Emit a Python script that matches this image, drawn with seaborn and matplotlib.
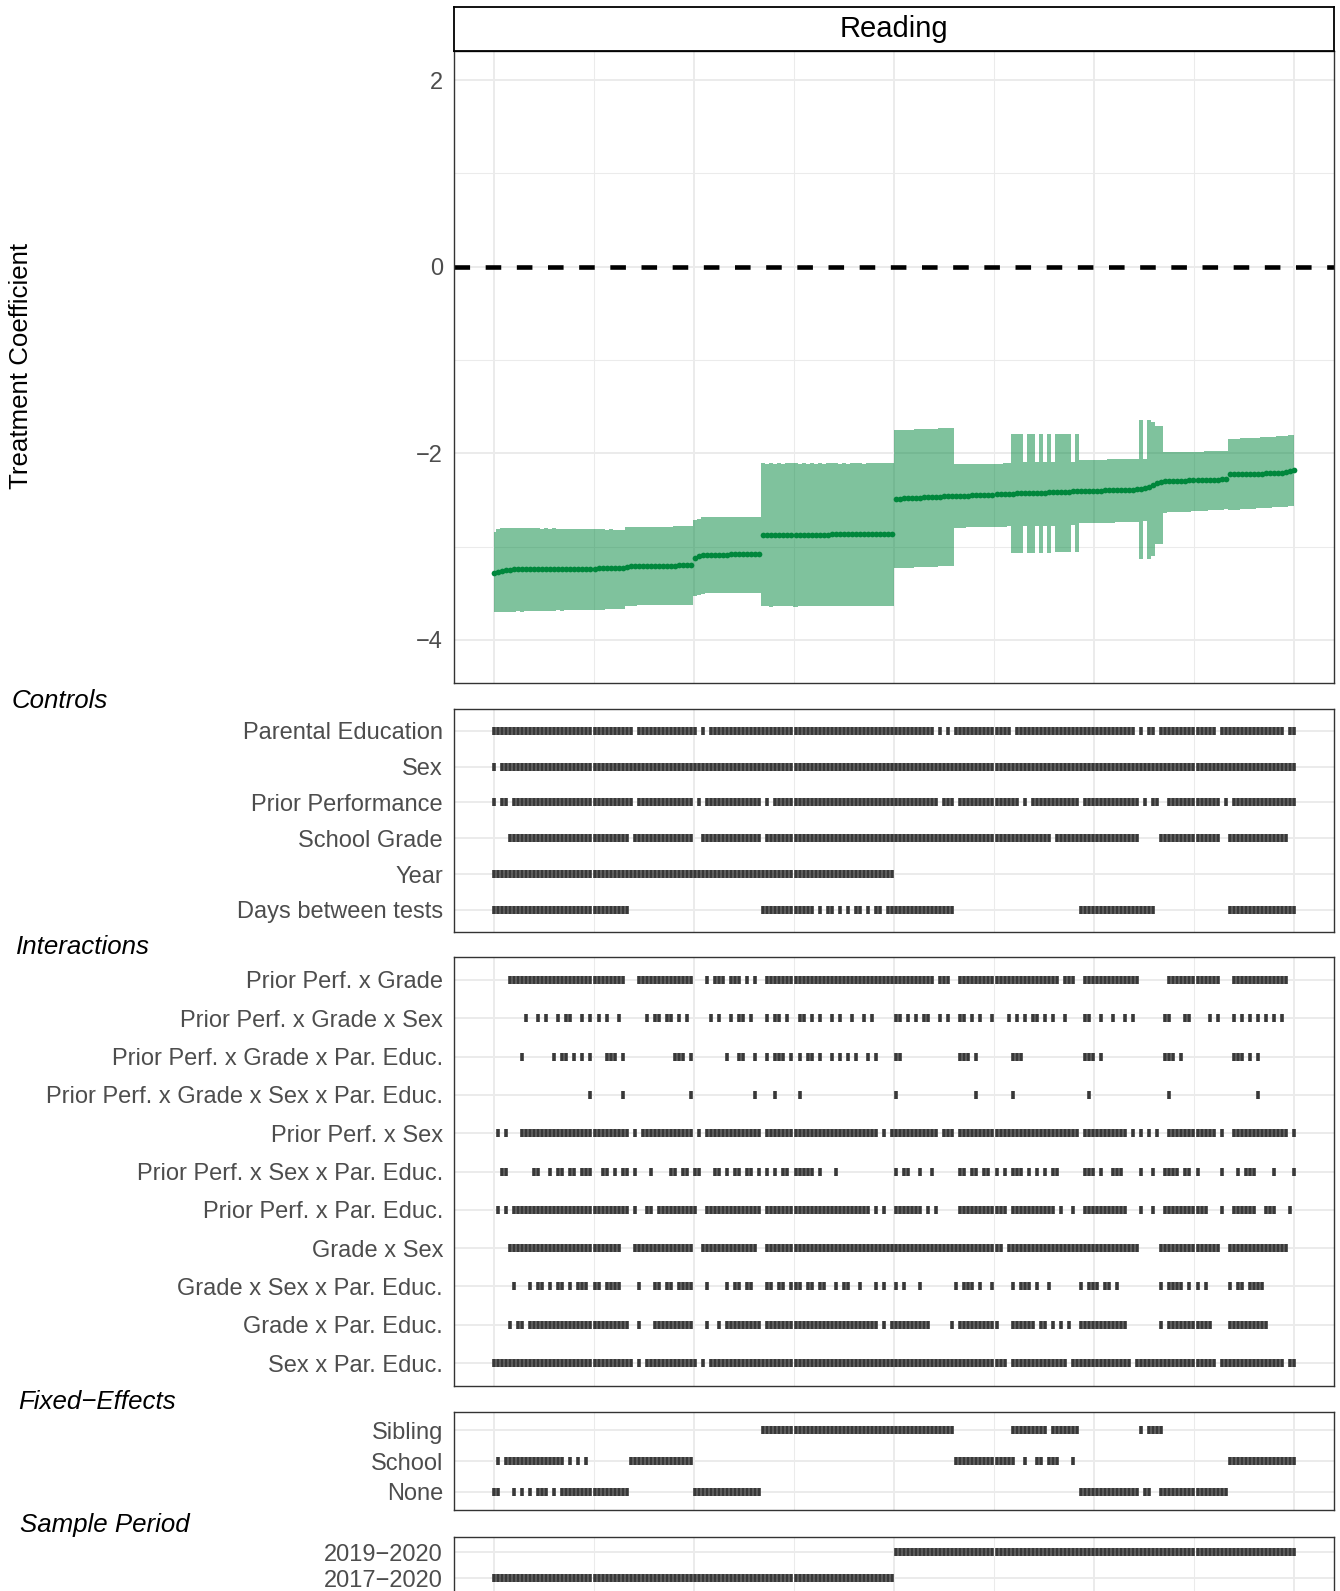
import numpy as np
import pandas as pd
import matplotlib
matplotlib.use("Agg")
import matplotlib.pyplot as plt
from matplotlib.ticker import FixedLocator
import seaborn as sns

# Treatment coefficient and 95% band for each specification (sorted)
estimate = [
    -3.280, -3.270, -3.260, -3.250, -3.245, -3.243, -3.242, -3.241, -3.240, -3.240,
    -3.239, -3.239, -3.238, -3.238, -3.238, -3.237, -3.237, -3.237, -3.236, -3.236,
    -3.236, -3.236, -3.235, -3.235, -3.235, -3.235, -3.234, -3.234, -3.234, -3.233,
    -3.233, -3.232, -3.230, -3.222, -3.212, -3.207, -3.206, -3.206, -3.205, -3.205,
    -3.205, -3.204, -3.204, -3.203, -3.203, -3.203, -3.202, -3.202, -3.201, -3.200,
    -3.125, -3.105, -3.092, -3.088, -3.087, -3.086, -3.086, -3.085, -3.085, -3.084,
    -3.084, -3.083, -3.083, -3.082, -3.081, -3.080, -3.079, -2.878, -2.877, -2.877,
    -2.876, -2.876, -2.875, -2.875, -2.874, -2.874, -2.873, -2.873, -2.872, -2.872,
    -2.871, -2.871, -2.870, -2.870, -2.869, -2.869, -2.868, -2.868, -2.867, -2.867,
    -2.867, -2.866, -2.866, -2.866, -2.865, -2.865, -2.865, -2.864, -2.864, -2.863,
    -2.490, -2.486, -2.483, -2.481, -2.479, -2.477, -2.474, -2.472, -2.470, -2.468,
    -2.466, -2.464, -2.462, -2.460, -2.458, -2.457, -2.455, -2.453, -2.452, -2.450,
    -2.449, -2.447, -2.446, -2.444, -2.443, -2.441, -2.440, -2.438, -2.436, -2.432,
    -2.430, -2.429, -2.428, -2.426, -2.425, -2.423, -2.422, -2.420, -2.419, -2.417,
    -2.416, -2.414, -2.412, -2.410, -2.407, -2.405, -2.404, -2.403, -2.402, -2.401,
    -2.400, -2.399, -2.398, -2.397, -2.396, -2.395, -2.394, -2.393, -2.391, -2.389,
    -2.386, -2.380, -2.372, -2.365, -2.335, -2.315, -2.303, -2.297, -2.296, -2.295,
    -2.294, -2.293, -2.292, -2.291, -2.290, -2.290, -2.289, -2.288, -2.287, -2.286,
    -2.283, -2.279, -2.270, -2.224, -2.222, -2.221, -2.220, -2.220, -2.219, -2.219,
    -2.218, -2.217, -2.216, -2.215, -2.214, -2.212, -2.208, -2.200, -2.192, -2.180,
]
ci_high = [
    -2.840, -2.815, -2.805, -2.800, -2.800, -2.802, -2.798, -2.801, -2.803, -2.800,
    -2.804, -2.801, -2.806, -2.803, -2.807, -2.804, -2.808, -2.806, -2.809, -2.807,
    -2.811, -2.809, -2.812, -2.810, -2.814, -2.812, -2.815, -2.813, -2.817, -2.815,
    -2.818, -2.817, -2.818, -2.792, -2.788, -2.788, -2.787, -2.787, -2.787, -2.786,
    -2.786, -2.786, -2.785, -2.785, -2.785, -2.784, -2.784, -2.783, -2.783, -2.782,
    -2.715, -2.700, -2.685, -2.682, -2.681, -2.681, -2.680, -2.680, -2.680, -2.679,
    -2.679, -2.679, -2.678, -2.678, -2.678, -2.677, -2.677, -2.105, -2.112, -2.102,
    -2.110, -2.104, -2.113, -2.106, -2.108, -2.103, -2.112, -2.105, -2.110, -2.104,
    -2.109, -2.106, -2.111, -2.104, -2.108, -2.103, -2.110, -2.105, -2.109, -2.104,
    -2.107, -2.103, -2.110, -2.104, -2.108, -2.103, -2.106, -2.104, -2.107, -2.102,
    -1.755, -1.752, -1.750, -1.748, -1.746, -1.744, -1.742, -1.740, -1.738, -1.736,
    -1.734, -1.732, -1.730, -1.727, -1.725, -2.115, -2.114, -2.114, -2.113, -2.113,
    -2.112, -2.112, -2.111, -2.111, -2.110, -2.110, -2.109, -2.108, -2.107, -1.793,
    -1.793, -1.793, -2.092, -1.793, -1.793, -2.092, -1.793, -2.092, -1.793, -2.092,
    -1.793, -1.793, -1.793, -1.793, -2.090, -1.793, -2.070, -2.069, -2.069, -2.068,
    -2.068, -2.067, -2.067, -2.066, -2.066, -2.065, -2.064, -2.063, -2.062, -2.061,
    -2.060, -1.643, -2.059, -1.643, -1.660, -1.707, -1.707, -1.990, -1.989, -1.988,
    -1.987, -1.986, -1.985, -1.984, -1.983, -1.982, -1.981, -1.980, -1.979, -1.978,
    -1.977, -1.976, -1.975, -1.847, -1.845, -1.843, -1.840, -1.838, -1.836, -1.834,
    -1.832, -1.829, -1.827, -1.824, -1.821, -1.818, -1.815, -1.811, -1.807, -1.803,
]
ci_low = [
    -3.700, -3.705, -3.698, -3.702, -3.696, -3.699, -3.694, -3.697, -3.692, -3.695,
    -3.690, -3.693, -3.688, -3.690, -3.686, -3.688, -3.684, -3.686, -3.682, -3.684,
    -3.680, -3.682, -3.678, -3.680, -3.676, -3.678, -3.674, -3.676, -3.672, -3.670,
    -3.668, -3.666, -3.664, -3.632, -3.631, -3.631, -3.630, -3.630, -3.629, -3.629,
    -3.628, -3.628, -3.627, -3.627, -3.626, -3.626, -3.625, -3.625, -3.624, -3.624,
    -3.530, -3.520, -3.505, -3.502, -3.501, -3.501, -3.500, -3.500, -3.500, -3.499,
    -3.499, -3.499, -3.498, -3.498, -3.498, -3.497, -3.497, -3.640, -3.632, -3.642,
    -3.634, -3.641, -3.633, -3.640, -3.635, -3.642, -3.633, -3.639, -3.634, -3.641,
    -3.633, -3.640, -3.634, -3.639, -3.632, -3.641, -3.634, -3.638, -3.633, -3.640,
    -3.634, -3.639, -3.633, -3.640, -3.635, -3.638, -3.632, -3.639, -3.634, -3.637,
    -3.233, -3.231, -3.229, -3.227, -3.225, -3.223, -3.221, -3.219, -3.217, -3.215,
    -3.213, -3.211, -3.209, -3.207, -3.205, -2.797, -2.796, -2.795, -2.794, -2.793,
    -2.792, -2.791, -2.790, -2.789, -2.788, -2.787, -2.786, -2.785, -2.784, -3.065,
    -3.065, -3.065, -2.775, -3.064, -3.064, -2.775, -3.063, -2.774, -3.063, -2.774,
    -3.062, -3.062, -3.061, -3.061, -2.772, -3.060, -2.750, -2.749, -2.748, -2.747,
    -2.746, -2.745, -2.744, -2.743, -2.742, -2.741, -2.740, -2.738, -2.736, -2.734,
    -2.732, -3.136, -2.730, -3.136, -3.100, -2.970, -2.970, -2.636, -2.634, -2.632,
    -2.630, -2.628, -2.626, -2.624, -2.622, -2.620, -2.617, -2.614, -2.611, -2.608,
    -2.605, -2.602, -2.600, -2.608, -2.605, -2.603, -2.600, -2.598, -2.595, -2.593,
    -2.590, -2.588, -2.585, -2.583, -2.580, -2.578, -2.575, -2.572, -2.569, -2.565,
]

# Specification indices (inclusive runs) that use each choice
ctrl_par_educ = [(0, 34), (36, 50), (52, 52), (54, 109), (111, 111), (113, 113), (115, 128),
                 (130, 159), (161, 161), (163, 164), (166, 179), (181, 196), (198, 199)]
ctrl_sex = [(0, 0), (2, 199)]
ctrl_prior = [(0, 0), (2, 3), (5, 34), (36, 49), (51, 51), (53, 66), (68, 68), (70, 110),
              (112, 114), (116, 130), (132, 132), (134, 145), (147, 160), (162, 162),
              (164, 165), (168, 180), (182, 182), (184, 199)]
ctrl_grade = [(4, 33), (35, 49), (52, 66), (68, 138), (140, 160), (166, 180), (183, 197)]
ctrl_year = [(0, 99)]
ctrl_days = [(0, 33), (67, 79), (81, 81), (83, 84), (86, 86), (88, 88), (90, 91), (93, 93),
             (95, 96), (98, 114), (146, 164), (183, 199)]

int_pg = [(4, 32), (36, 49), (53, 53), (55, 57), (59, 61), (63, 63), (65, 65), (68, 109),
          (111, 113), (116, 140), (142, 144), (147, 160), (168, 180), (184, 197)]
int_pgs = [(8, 8), (11, 11), (13, 13), (16, 16), (18, 19), (22, 22), (24, 24), (26, 26),
           (28, 28), (31, 31), (38, 38), (40, 41), (43, 44), (46, 46), (48, 48), (54, 54),
           (56, 56), (59, 59), (61, 62), (64, 64), (68, 68), (70, 71), (73, 73), (76, 77),
           (79, 79), (81, 81), (84, 84), (86, 86), (89, 89), (92, 92), (94, 94), (100, 101),
           (103, 103), (105, 105), (107, 108), (111, 111), (113, 113), (116, 117), (119, 119),
           (121, 121), (124, 124), (128, 128), (130, 130), (132, 132), (134, 135), (137, 137),
           (139, 139), (142, 142), (147, 148), (151, 151), (154, 154), (157, 157), (159, 159),
           (167, 168), (172, 173), (178, 178), (180, 180), (184, 184), (186, 186), (188, 188),
           (190, 190), (192, 192), (194, 194), (196, 196)]
int_pgp = [(7, 7), (15, 15), (17, 18), (20, 20), (22, 22), (24, 24), (28, 30), (32, 32),
           (45, 47), (49, 49), (58, 58), (61, 62), (65, 65), (68, 68), (70, 72), (74, 74),
           (76, 76), (78, 79), (81, 81), (84, 84), (86, 86), (88, 88), (90, 90), (93, 93),
           (95, 95), (100, 101), (116, 118), (120, 120), (129, 131), (147, 149), (151, 151),
           (167, 169), (171, 171), (184, 186), (188, 188), (190, 190)]
int_pgsp = [(24, 24), (32, 32), (49, 49), (65, 65), (70, 70), (76, 76), (100, 100),
            (120, 120), (129, 129), (148, 148), (168, 168), (190, 190)]
int_ps = [(1, 1), (3, 3), (7, 33), (35, 35), (37, 49), (51, 51), (53, 66), (68, 95), (97, 97),
          (99, 110), (112, 114), (116, 145), (147, 157), (159, 159), (161, 161), (163, 163),
          (165, 165), (168, 179), (181, 181), (184, 197), (199, 199)]
int_psp = [(2, 3), (10, 11), (14, 14), (16, 17), (19, 20), (22, 24), (27, 28), (30, 30),
           (32, 33), (35, 35), (39, 39), (44, 45), (47, 48), (50, 51), (55, 56), (58, 58),
           (60, 61), (63, 64), (66, 66), (68, 68), (70, 70), (72, 73), (75, 79), (81, 81),
           (85, 85), (100, 100), (102, 103), (106, 106), (109, 109), (116, 117), (119, 120),
           (122, 123), (125, 125), (127, 127), (129, 131), (133, 133), (135, 135), (137, 137),
           (139, 140), (147, 149), (151, 151), (154, 156), (161, 161), (164, 164), (167, 170),
           (172, 173), (175, 175), (181, 181), (185, 185), (187, 189), (194, 194), (199, 199)]
int_pp = [(1, 1), (3, 3), (5, 33), (35, 35), (38, 39), (41, 50), (53, 66), (68, 93), (95, 95),
          (97, 97), (100, 106), (108, 108), (110, 110), (116, 127), (129, 139), (141, 141),
          (144, 144), (147, 157), (161, 161), (164, 164), (167, 177), (181, 181), (184, 189),
          (192, 194), (198, 198)]
int_gs = [(4, 31), (35, 49), (52, 65), (68, 126), (128, 160), (166, 180), (183, 197)]
int_gsp = [(5, 5), (9, 9), (11, 12), (14, 14), (16, 17), (19, 19), (21, 23), (25, 26),
           (28, 31), (36, 36), (40, 41), (43, 44), (46, 49), (53, 53), (58, 58), (60, 61),
           (63, 64), (68, 69), (71, 72), (74, 76), (78, 79), (81, 82), (85, 85), (87, 88),
           (91, 91), (95, 95), (97, 97), (100, 100), (102, 102), (106, 106), (115, 115),
           (117, 119), (121, 121), (124, 124), (129, 129), (131, 133), (135, 135), (138, 138),
           (146, 146), (148, 150), (152, 153), (155, 155), (166, 166), (168, 171), (173, 173),
           (175, 175), (177, 177), (183, 183), (185, 186), (188, 191)]
int_gp = [(4, 4), (6, 7), (9, 33), (36, 36), (40, 49), (53, 53), (56, 56), (58, 66), (68, 95),
          (97, 97), (99, 108), (114, 114), (116, 125), (129, 134), (136, 137), (139, 139),
          (141, 141), (143, 143), (146, 157), (166, 166), (168, 178), (183, 192)]
int_sp = [(0, 34), (36, 36), (38, 50), (52, 52), (54, 127), (129, 142), (144, 158),
          (160, 179), (181, 196), (198, 199)]

fe_sibling = [(67, 114), (129, 137), (139, 145), (161, 161), (163, 166)]
fe_school = [(1, 1), (3, 17), (19, 19), (21, 21), (23, 23), (34, 49), (115, 129), (132, 132),
             (135, 136), (138, 140), (144, 144), (183, 199)]
fe_none = [(0, 1), (5, 5), (7, 7), (9, 9), (11, 13), (15, 15), (17, 33), (50, 66),
           (146, 160), (162, 163), (166, 182)]

period_late = [(100, 199)]
period_early = [(0, 99)]

control_labels = ["Parental Education", "Sex", "Prior Performance", "School Grade",
                  "Year", "Days between tests"]
interaction_labels = ["Prior Perf. x Grade", "Prior Perf. x Grade x Sex",
                      "Prior Perf. x Grade x Par. Educ.", "Prior Perf. x Grade x Sex x Par. Educ.",
                      "Prior Perf. x Sex", "Prior Perf. x Sex x Par. Educ.",
                      "Prior Perf. x Par. Educ.", "Grade x Sex", "Grade x Sex x Par. Educ.",
                      "Grade x Par. Educ.", "Sex x Par. Educ."]
fe_labels = ["Sibling", "School", "None"]
period_labels = ["2019\u22122020", "2017\u22122020"]

# ---- style
sns.set_style("white")
plt.rcParams["font.family"] = ["Liberation Sans", "DejaVu Sans"]
plt.rcParams["axes.unicode_minus"] = True

GREEN = "#00873C"
MARK = "#383838"
GRID = "#EBEBEB"
TXT = "#4D4D4D"
W, H = 1340, 1591

n_spec = len(estimate)
spec = np.arange(n_spec)
xlim = (-0.05 * (n_spec - 1), (n_spec - 1) * 1.05)
x_major = np.linspace(0, n_spec - 1, 5)
x_minor = (x_major[:-1] + x_major[1:]) / 2

fig = plt.figure(figsize=(W / 100, H / 100), dpi=100)


def add_panel(top, bottom):
    ax = fig.add_axes([454 / W, 1 - bottom / H, 880 / W, (bottom - top) / H])
    for s in ax.spines.values():
        s.set_color("#333333")
        s.set_linewidth(1.0)
    ax.set_facecolor("white")
    ax.set_axisbelow(True)
    ax.xaxis.set_major_locator(FixedLocator(x_major))
    ax.xaxis.set_minor_locator(FixedLocator(x_minor))
    ax.grid(which="major", axis="x", color=GRID, lw=1.4)
    ax.grid(which="minor", axis="x", color=GRID, lw=0.75)
    ax.tick_params(axis="x", which="both", length=0, labelbottom=False)
    ax.set_xlim(*xlim)
    return ax


# ---- top panel: coefficients
ax = add_panel(50.7, 682.6)
ax.fill_between(spec, ci_low, ci_high, step="mid", color=GREEN, alpha=0.5, lw=0)
sns.scatterplot(x=spec, y=estimate, ax=ax, color=GREEN, s=17, linewidth=0,
                legend=False, zorder=3)
ax.axhline(0, color="black", lw=3.3, dashes=(3.4, 3.4))
ax.set_ylim(-4.457, 2.315)
ax.yaxis.set_major_locator(FixedLocator([-4, -2, 0, 2]))
ax.yaxis.set_minor_locator(FixedLocator([-3, -1, 1]))
ax.grid(which="major", axis="y", color=GRID, lw=1.4)
ax.grid(which="minor", axis="y", color=GRID, lw=0.75)
ax.tick_params(axis="y", which="major", length=4, width=0.8, color="#333333",
               labelsize=17, labelcolor=TXT, pad=3.9)
ax.tick_params(axis="y", which="minor", length=0)
ax.set_xlabel("")
ax.set_ylabel("")
ax.set_xlim(*xlim)

# strip
sax = fig.add_axes([454 / W, 1 - 50.7 / H, 880 / W, 44 / H])
sax.set_xticks([])
sax.set_yticks([])
for s in sax.spines.values():
    s.set_color("black")
    s.set_linewidth(1.3)
sax.text(0.5, 0.5, "Reading", ha="center", va="center", fontsize=21, color="black",
         transform=sax.transAxes)

fig.text(21 / W, 1 - 366 / H, "Treatment Coefficient", rotation=90, ha="center",
         va="center", fontsize=18.6, color="black")


# ---- indicator panels
def indicator_panel(top, bottom, labels, rows):
    ax = add_panel(top, bottom)
    recs = []
    for r, runs in enumerate(rows):
        for a, b in runs:
            for i in range(a, b + 1):
                recs.append((i, r))
    df = pd.DataFrame(recs, columns=["spec", "row"])
    sns.scatterplot(data=df, x="spec", y="row", ax=ax, marker="|", s=27,
                    linewidth=2.6, color=MARK, legend=False)
    ax.set_xlim(*xlim)
    ax.set_ylim(len(labels) - 1 + 0.6, -0.6)
    ax.set_yticks(range(len(labels)))
    ax.set_yticklabels(labels)
    ax.grid(which="major", axis="y", color=GRID, lw=1.4)
    ax.tick_params(axis="y", length=0, labelsize=17, labelcolor=TXT, pad=7.9)
    ax.set_xlabel("")
    ax.set_ylabel("")
    return ax


indicator_panel(709.3, 931.5, control_labels,
                [ctrl_par_educ, ctrl_sex, ctrl_prior, ctrl_grade, ctrl_year, ctrl_days])
indicator_panel(957, 1386, interaction_labels,
                [int_pg, int_pgs, int_pgp, int_pgsp, int_ps, int_psp, int_pp, int_gs,
                 int_gsp, int_gp, int_sp])
indicator_panel(1412, 1510, fe_labels, [fe_sibling, fe_school, fe_none])
indicator_panel(1536.7, 1594, period_labels, [period_late, period_early])

sec = dict(fontsize=18.6, style="italic", color="black", ha="left", va="center")
fig.text(12 / W, 1 - 701 / H, "Controls", **sec)
fig.text(16 / W, 1 - 947 / H, "Interactions", **sec)
fig.text(18 / W, 1 - 1401.6 / H, "Fixed\u2212Effects", **sec)
fig.text(20 / W, 1 - 1525 / H, "Sample Period", **sec)

fig.savefig("out.png", dpi=100)
